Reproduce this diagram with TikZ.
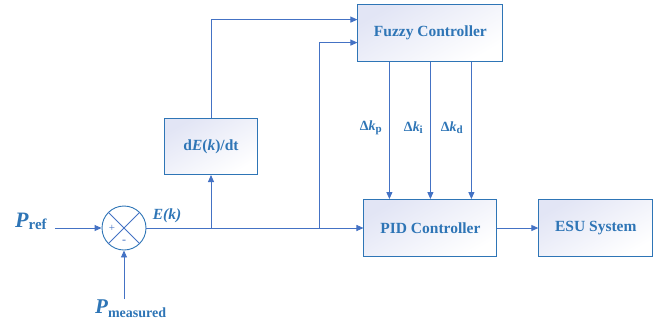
\documentclass[tikz,border=0pt]{standalone}
\usepackage{fontspec}
\setmainfont{Liberation Serif}
\usetikzlibrary{positioning, arrows.meta, calc}
\definecolor{lineblue}{RGB}{68,114,196}
\definecolor{textblue}{RGB}{46,117,182}
\definecolor{boxshade}{RGB}{226,229,245}
\newcommand{\gainlabel}[1]{Δ\textit{k}\raisebox{-2pt}{\fontsize{11}{11}\selectfont #1}}

\begin{document}
\begin{tikzpicture}[
  x=1pt, y=-1pt,
  font=\fontsize{15.5}{18}\selectfont\bfseries,
  text=textblue,
  wire/.style={draw=lineblue, line width=0.9pt},
  arr/.style={wire, -{Triangle[length=7pt,width=6pt]}},
  block/.style={
    draw=textblue, line width=0.9pt, minimum height=57pt,
    top color=boxshade, bottom color=white, shading angle=30
  },
  sumnode/.style={circle, draw=textblue, line width=0.9pt,
    minimum size=44pt, inner sep=0pt, fill=white},
  gain/.style={font=\fontsize{14}{16}\selectfont\bfseries, anchor=east, inner sep=1pt}
]
\useasboundingbox (0,0) rectangle (658,322);

% summing junction and signals
\node[sumnode] (sum) at (124,228) {};
\draw[wire] (sum.north west) -- (sum.south east) (sum.north east) -- (sum.south west);
\node[font=\fontsize{11}{11}\selectfont, text=lineblue] (plus) at ($(sum)+(-12,0)$) {+};
\node[font=\fontsize{12}{12}\selectfont, text=lineblue] (minus) at ($(sum)+(0,14)$) {-};

\node[anchor=base west, inner sep=0pt] (pref) at (15,227)
  {\fontsize{22}{22}\selectfont\itshape P\raisebox{-2pt}{\fontsize{15}{15}\selectfont\upshape ref}};
\node[anchor=base west, inner sep=0pt] (pmeas) at (95,313)
  {\fontsize{21}{21}\selectfont\itshape P\raisebox{-4pt}{\fontsize{14}{14}\selectfont\upshape measured}};
\node (ek) at (167,216) {\itshape E(k)};

\coordinate (j1) at (211,228);
\coordinate (j2) at (319,228);

% blocks
\node[block, minimum width=133pt, right=217pt of sum] (pid) {PID Controller};
\node[block, minimum width=114pt, right=41pt of pid] (esu) {ESU System};
\node[block, minimum width=145pt, above=137pt of pid] (fuzzy) {Fuzzy Controller};
\node[block, minimum width=93pt, minimum height=56pt, above=53pt of j1] (deriv) {d\textit{E}(\textit{k})/dt};

\node[gain] (dkp) at (383,128) {\gainlabel{p}};
\node[gain] (dki) at (424,128) {\gainlabel{i}};
\node[gain] (dkd) at (464,128) {\gainlabel{d}};

% connectors
\draw[arr] ($(pref.east |- sum)+(8,0)$) -- (sum.west);
\draw[arr] (pmeas.north -| sum) -- (sum.south);
\draw[arr] (sum.east) -- (pid.west);
\draw[arr] (j1) -- (deriv.south);
\draw[arr] (deriv.north) |- ([yshift=13.5pt]fuzzy.west);
\draw[arr] (j2) |- ([yshift=-9.5pt]fuzzy.west);
\foreach \dx in {-41,0,41}
  \draw[arr] ([xshift=\dx pt]fuzzy.south) -- ([xshift=\dx pt]pid.north);
\draw[arr] (pid) -- (esu);
\end{tikzpicture}
\end{document}
